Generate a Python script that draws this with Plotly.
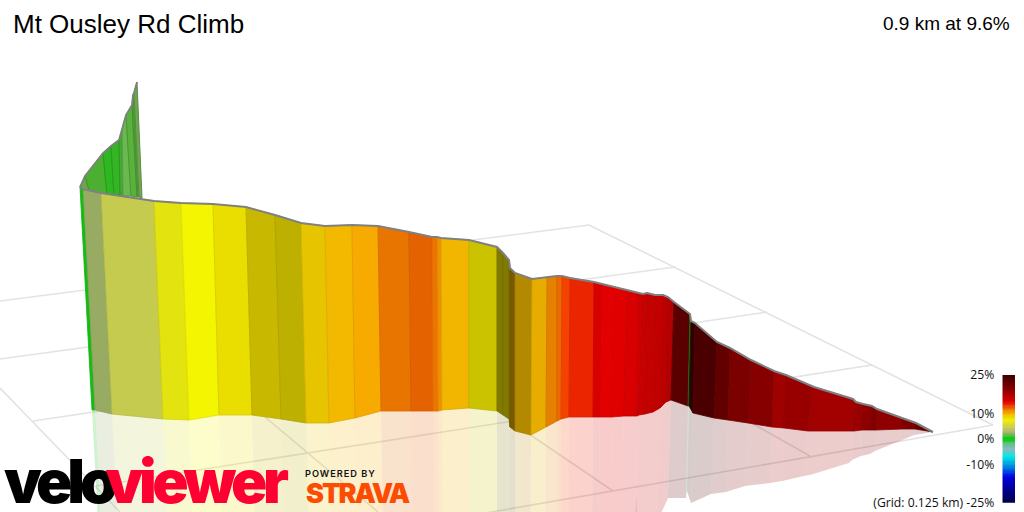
import plotly.graph_objects as go

# ---- front wall: boundaries of each gradient strip (picture units) ----
wall_top_x = [80,83,101,154,181,213,246,275,301,325,352,378,409,432,437,441,469,497,503,509,510,515,532,547,557,562,570,594,602,614,627,638,643,647,655,663,668,674,690,691,695,717,730,751,774,786,812,814,853,856,863,872,877,902,916,933]
wall_top_y = [187,189,193,201,203,204,207,215,223,226,225,226,232,237,237,238,240,247,253,260,268,273,279,277,276,276,278,282,284,287,290,293,294,293,295,295,297,302,314,321,323,342,348,360,371,375,386,387,399,402,404,406,409,418,423,432]
wall_bot_x = [92,95,112,163,189,219,252,281,306,329,355,381,411,433,438,442,469,497,503,509,510,515,531,546,557,561,569,593,600,612,624,637,639,645,653,660,666,671,688,689,693,714,728,748,772,784,808,812,851,854,862,871,876,902,915,933]
wall_bot_y = [410,410,414,419,420,415,415,419,423,423,418,411,411,411,411,410,408,411,415,419,427,431,435,427,421,419,417,417,417,417,416,416,415,414,412,408,402,400,406,406,413,418,420,423,427,428,431,431,431,431,430,430,430,429,429,432]
strip_colors = ["#10c010","#97ab63","#c5cb4e","#e3e30f","#f4f500","#e9de00","#c8b900","#bdb000","#e6c400","#f2b900","#f7aa00","#e87500","#e56200","#ee7400","#f09000","#f2b500","#cbc300","#817a00","#817a00","#817a00","#7a5a00","#b38900","#e6ad00","#e58000","#ed6a00","#f44200","#eb2500","#d90000","#e30000","#e10000","#d80000","#cf0000","#c80000","#c40000","#c20000","#bc0000","#b40000","#5a0000","#108010","#300000","#4a0000","#620000","#7b0000","#860000","#9f0000","#980000","#a30000","#a30000","#a00000","#9a0000","#8c0000","#800000","#8f0000","#800000","#660000"]

# ---- back wall (the climb folding behind) ----
back_top_x = [80,85,103,111,119,122,126,132,133,134,137]
back_top_y = [187,176,153,146,140,130,115,105,95,93,82]
back_bot_x = [84,90,107,114,120,123,131,137,138,139,142]
back_bot_y = [192,193,195,195,195,196,196,197,197,197,198]
back_colors = ["#6ba845","#4bb030","#2db81f","#35b525","#3eaf2c","#6ab850","#58b23c","#4ead32","#60a840","#6aa850"]

# ---- floor grid ----
grid_x = [[589,993],[589,0],[675,0],[767,33],[872,96],[993,480],[0,120],[240,378],[510,613],[700,810]]
grid_y = [[225,425],[225,301],[267,359],[312,421],[365,486],[425,514],[388,512],[396,512],[421,491],[394,456]]

# ---- gradient scale ----
scale_grades = [-25,-21,-15,-10.6,-7,-4,-2,-0.4,0.4,2.2,4.2,7.4,9.5,11.3,14.5,19,25]
scale_colors = ["#00004a","#000080","#0000e0","#0090e0","#00e8e8","#88bbbb","#60c090","#10cc10","#10cc10","#9fb070","#c8c860","#f0f000","#f0c000","#f08000","#e00000","#900000","#3a0000"]
scale_cells = [g / 2 for g in range(-50, 51)]
scale_ticks = [-25,-10,0,10,25]
scale_labels = ["(Grid: 0.125 km) -25%","-10%","0%","10%","25%"]

title_text = "Mt Ousley Rd Climb"
summary_text = "0.9 km at 9.6%"

def darker(c, f=0.92):
    r, g, b = int(c[1:3],16), int(c[3:5],16), int(c[5:7],16)
    return f"rgb({int(r*f)},{int(g*f)},{int(b*f)})"

fig = go.Figure()

def poly(xs, ys, color, line, opacity=1.0, width=1):
    fig.add_trace(go.Scatter(x=xs, y=ys, mode="lines", fill="toself", fillcolor=color,
                             line=dict(color=line, width=width), opacity=opacity,
                             hoverinfo="skip", showlegend=False))

# grid
for gx, gy in zip(grid_x, grid_y):
    fig.add_trace(go.Scatter(x=gx, y=gy, mode="lines", line=dict(color="#e3e3e3", width=1.6),
                             hoverinfo="skip", showlegend=False))

# reflection of the front wall
for i, c in enumerate(strip_colors):
    rx0 = 2*wall_bot_x[i] - wall_top_x[i]; rx1 = 2*wall_bot_x[i+1] - wall_top_x[i+1]
    ry0 = 2*wall_bot_y[i] - wall_top_y[i]; ry1 = 2*wall_bot_y[i+1] - wall_top_y[i+1]
    fig.add_trace(go.Scatter(x=[wall_bot_x[i], wall_bot_x[i+1], rx1, rx0, wall_bot_x[i]],
                             y=[wall_bot_y[i], wall_bot_y[i+1], ry1, ry0, wall_bot_y[i]],
                             mode="lines", fill="toself", fillcolor=c, line=dict(width=0),
                             opacity=0.2, hoverinfo="skip", showlegend=False))

# back wall
for i, c in enumerate(back_colors):
    poly([back_top_x[i], back_top_x[i+1], back_bot_x[i+1], back_bot_x[i], back_top_x[i]],
         [back_top_y[i], back_top_y[i+1], back_bot_y[i+1], back_bot_y[i], back_top_y[i]],
         c, darker(c, 0.85))
fig.add_trace(go.Scatter(x=back_top_x, y=back_top_y, mode="lines",
                         line=dict(color="#808080", width=1.8),
                         hoverinfo="skip", showlegend=False))

# front wall
for i, c in enumerate(strip_colors):
    poly([wall_top_x[i], wall_top_x[i+1], wall_bot_x[i+1], wall_bot_x[i], wall_top_x[i]],
         [wall_top_y[i], wall_top_y[i+1], wall_bot_y[i+1], wall_bot_y[i], wall_top_y[i]],
         c, darker(c), width=0.8)
fig.add_trace(go.Scatter(x=wall_top_x, y=wall_top_y, mode="lines",
                         line=dict(color="#808080", width=2),
                         hoverinfo="skip", showlegend=False))

# gradient scale
span = scale_grades[-1] - scale_grades[0]
fig.add_trace(go.Heatmap(x=[0], y=scale_cells, z=[[g] for g in scale_cells], zmin=-25, zmax=25,
                         colorscale=[[(g - scale_grades[0]) / span, c] for g, c in zip(scale_grades, scale_colors)],
                         showscale=False, hoverinfo="skip", xaxis="x2", yaxis="y2"))

def label(x, y, text, size, color="#000000", family="Liberation Sans", anchor="left", weight=None):
    fig.add_annotation(x=x, y=y, xref="x", yref="y", text=text, showarrow=False, xanchor=anchor,
                       yanchor="middle", borderpad=0, borderwidth=0,
                       font=dict(family=family, size=size, color=color, weight=weight))

label(13, 24, title_text, 26)
label(1010, 23, summary_text, 19, anchor="right")
label(58.5, 481, "velo", 60, family="Inter", weight=900, anchor="center")
label(195, 481, "viewer", 60, color="#ff0033", family="Inter", weight=900, anchor="center")
label(340, 473, "POWERED BY", 9.2, color="#111111", family="Inter", weight=600, anchor="center")
label(356.5, 493.5, "STRAVA", 27, color="#fc4c02", family="Inter", weight=900, anchor="center")

fig.update_layout(
    width=1024, height=512, autosize=False, margin=dict(l=0, r=0, t=0, b=0, autoexpand=False),
    paper_bgcolor="white", plot_bgcolor="rgba(0,0,0,0)", showlegend=False,
    xaxis=dict(domain=[0, 1], range=[0, 1024], visible=False, fixedrange=True),
    yaxis=dict(domain=[0, 1], range=[512, 0], visible=False, fixedrange=True),
    xaxis2=dict(domain=[1002.3/1024, 1015/1024], anchor="y2", visible=False, range=[-0.5, 0.5]),
    yaxis2=dict(domain=[9.3/512, 137/512], anchor="x2", range=[-25, 25], tickvals=scale_ticks,
                ticktext=scale_labels, ticks="", showline=False, showgrid=False, zeroline=False,
                ticklabelstandoff=7,
                tickfont=dict(family="Open Sans", size=12.2, color="#111111")),
)
spacing_js = """
document.documentElement.style.overflow='hidden';
document.body.style.margin='0';
var spacing={'velo':'-5px','viewer':'-4.5px','POWERED BY':'1px','STRAVA':'-2px'};
document.querySelectorAll('.annotation-text').forEach(function(t){
  var s=spacing[t.textContent]; if(s){t.style.letterSpacing=s;}
});
"""
fig.write_html("out.html", config={"displayModeBar": False}, post_script=spacing_js)
